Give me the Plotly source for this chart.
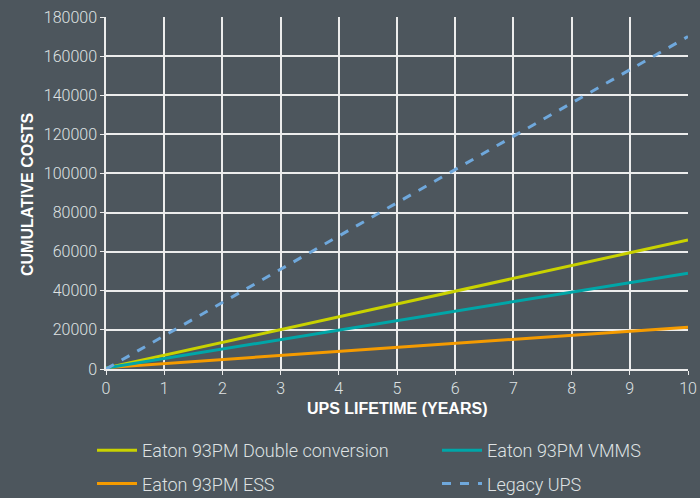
import plotly.graph_objects as go

years = [0, 1, 2, 3, 4, 5, 6, 7, 8, 9, 10]
double_conv = [500, 7050, 13600, 20150, 26700, 33250, 39800, 46350, 52900, 59450, 66000]
vmms = [500, 5350, 10200, 15050, 19900, 24750, 29600, 34450, 39300, 44150, 49000]
ess = [700, 2770, 4840, 6910, 8980, 11050, 13120, 15190, 17260, 19330, 21400]
legacy = [0, 17000, 34000, 51000, 68000, 85000, 102000, 119000, 136000, 153000, 170000]

x_title = "UPS LIFETIME (YEARS)"
y_title = "CUMULATIVE COSTS"

bg = "#4d565d"
grid = "#ececec"
tickc = "#dfe2e3"
font = "Roboto"
tfont = "Liberation Sans"

fig = go.Figure()
fig.add_trace(go.Scatter(x=years, y=double_conv, mode="lines", name="Eaton 93PM Double conversion",
                         legend="legend", legendgroup="a",
                         line=dict(color="#c9d200", width=3)))
fig.add_trace(go.Scatter(x=years, y=ess, mode="lines", name="Eaton 93PM ESS",
                         legend="legend", legendgroup="b",
                         line=dict(color="#f59b00", width=3)))
fig.add_trace(go.Scatter(x=years, y=vmms, mode="lines", name="Eaton 93PM VMMS",
                         legend="legend2", legendgroup="c",
                         line=dict(color="#00a6a8", width=3)))
fig.add_trace(go.Scatter(x=years, y=legacy, mode="lines", name="Legacy UPS",
                         legend="legend2", legendgroup="d",
                         line=dict(color="#6fa8dc", width=3, dash="dash")))

legfont = dict(family=font, size=18, color=tickc, weight=300)
common_leg = dict(xref="container", yref="container", xanchor="left", yanchor="top",
                  y=1 - 432 / 498, orientation="v", font=legfont, tracegroupgap=7,
                  itemwidth=40, bgcolor="rgba(0,0,0,0)", traceorder="grouped")

titlefont = dict(family=tfont, size=16, color="#ffffff", weight="bold")

fig.update_layout(
    width=700, height=498,
    paper_bgcolor=bg, plot_bgcolor=bg,
    margin=dict(l=106, r=12, t=17, b=129, autoexpand=False),
    font=dict(family=font, color=tickc, size=16),
    showlegend=True,
    legend=dict(x=92 / 700, **common_leg),
    legend2=dict(x=437 / 700, **common_leg),
    xaxis=dict(range=[0, 10], dtick=1, tick0=0, showgrid=True, gridcolor=grid, gridwidth=1.5,
               showline=True, linecolor=grid, linewidth=1.5, ticks="outside", ticklen=4,
               tickcolor=grid, zeroline=False,
               tickfont=dict(family=font, size=16, color=tickc, weight=300)),
    yaxis=dict(range=[0, 180000], dtick=20000, tick0=0, tickformat="d", showgrid=True, gridcolor=grid,
               gridwidth=1.5, showline=True, linecolor=grid, linewidth=1.5, ticks="outside", ticklen=4,
               tickcolor=grid, zeroline=False,
               tickfont=dict(family=font, size=16, color=tickc, weight=300)),
    annotations=[
        dict(text=x_title, xref="paper", yref="paper", x=(397 - 106) / 582, y=0,
             xanchor="center", yanchor="middle", yshift=-39, showarrow=False, font=titlefont),
        dict(text=y_title, xref="paper", yref="paper", x=(27 - 106) / 582, y=(369 - 194) / 352,
             xanchor="center", yanchor="middle", textangle=-90, showarrow=False, font=titlefont),
    ],
)
fig.write_html("out.html", config={"displayModeBar": False},
               post_script="document.body.style.margin='0';document.body.style.background='" + bg + "';")
